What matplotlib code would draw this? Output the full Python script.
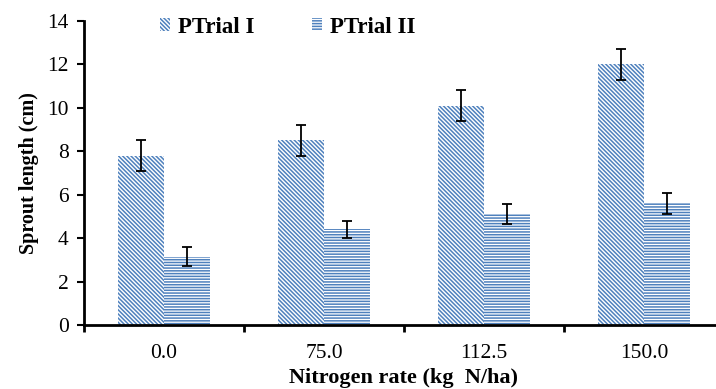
import numpy as np
import matplotlib
matplotlib.use('Agg')
from matplotlib import pyplot as plt

categories = ['0.0', '75.0', '112.5', '150.0']
trial1 = [7.8, 8.5, 10.1, 12.0]
trial1_err = [0.72, 0.7, 0.7, 0.72]
trial2 = [3.15, 4.4, 5.1, 5.6]
trial2_err = [0.45, 0.4, 0.45, 0.48]

plt.rcParams['font.family'] = ['Liberation Serif', 'DejaVu Serif']
plt.rcParams['hatch.linewidth'] = 1.1

blue = '#4f81bd'

fig = plt.figure(figsize=(7.16, 3.89), dpi=100)
ax = fig.add_axes([84 / 716, 64 / 389, 640 / 716, 304 / 389])

x = np.arange(len(categories))
w = 0.29
ekw = dict(ecolor='black', elinewidth=1.3, capsize=3.5, capthick=1.3)
ax.bar(x - w / 2, trial1, w, yerr=trial1_err, color='white', edgecolor=blue,
       linewidth=0, hatch='\\' * 8, label='PTrial I', error_kw=ekw)
ax.bar(x + w / 2, trial2, w, yerr=trial2_err, color='white', edgecolor=blue,
       linewidth=0, hatch='-' * 6, label='PTrial II', error_kw=ekw)

ax.set_xlim(-0.5, 3.5)
ax.set_ylim(0, 14)
ax.set_yticks(range(0, 15, 2))
ax.set_xticks(x)
ax.set_xticklabels(categories)
ax.set_xticks(np.arange(-0.5, 3.6, 1), minor=True)
ax.tick_params(axis='x', which='major', length=0, pad=14, labelsize=15.5)
ax.tick_params(axis='x', which='minor', length=5, width=2, direction='out')
ax.tick_params(axis='y', length=5, width=1.5, direction='out', labelsize=15.5, pad=6)

for s in ['top', 'right']:
    ax.spines[s].set_visible(False)
for s in ['left', 'bottom']:
    ax.spines[s].set_linewidth(2)

ax.set_xlabel('Nitrogen rate (kg  N/ha)', fontsize=16, fontweight='bold', labelpad=3)
ax.set_ylabel('Sprout length (cm)', fontsize=14.5, fontweight='bold', labelpad=6)

fig.legend(loc='upper left', bbox_to_anchor=(139 / 716, 1.01), ncol=2, frameon=False,
           prop=dict(size=16.5, weight='bold'), handlelength=0.45, handleheight=0.45,
           columnspacing=2.5, handletextpad=0.35)

fig.savefig('out.png', dpi=100)
